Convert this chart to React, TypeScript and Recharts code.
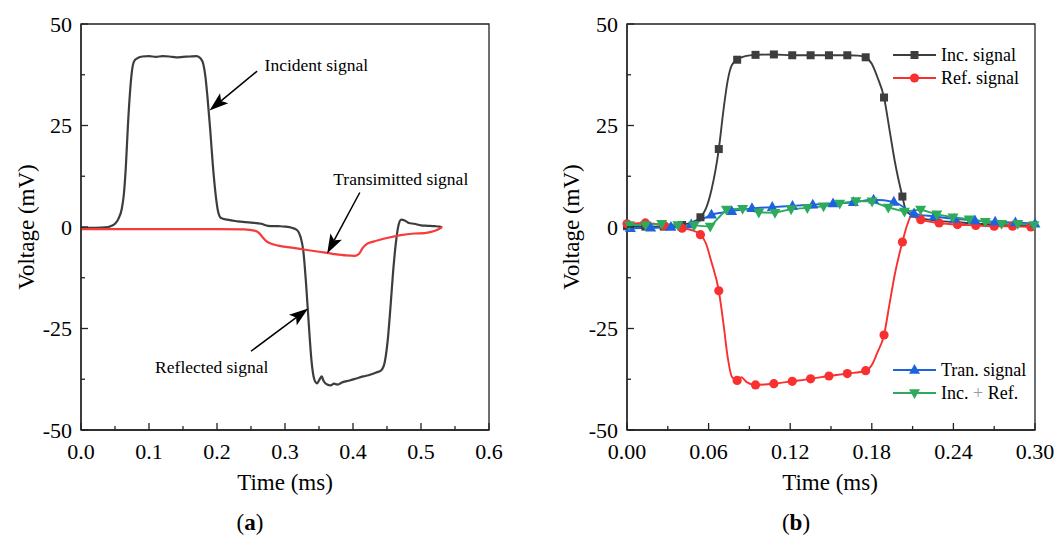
import React from 'react';
import {
  ComposedChart,
  Line,
  XAxis,
  YAxis,
  ReferenceArea,
  ReferenceLine,
  ReferenceDot,
} from 'recharts';

const FONT = "'Liberation Serif', 'Times New Roman', serif";
const AXIS = '#222';

// ---- panel (a): raw signals, [time ms, voltage mV]
const incidentA: [number, number][] = [
  [0, -0.2], [0.02, -0.2], [0.04, 0], [0.045, 0.3], [0.05, 0.8], [0.055, 2], [0.06, 4.5],
  [0.063, 8], [0.066, 15], [0.069, 25], [0.072, 33], [0.075, 38.5], [0.078, 40.8], [0.082, 41.5],
  [0.09, 42], [0.1, 42.1], [0.11, 41.9], [0.12, 42.1], [0.13, 42], [0.14, 41.8], [0.15, 41.9],
  [0.16, 42], [0.17, 42.1], [0.176, 41.5], [0.18, 40], [0.183, 37], [0.186, 32], [0.19, 24],
  [0.194, 15], [0.198, 8], [0.202, 3.5], [0.206, 2.2], [0.215, 1.8], [0.23, 1.4], [0.25, 1.1],
  [0.265, 0.8], [0.275, 0.3], [0.29, 0.2], [0.3, 0.1], [0.31, -0.2], [0.318, -0.8], [0.323, -2.5],
  [0.327, -6], [0.331, -14], [0.335, -24], [0.339, -33], [0.343, -37.5], [0.347, -38.5],
  [0.351, -37.5], [0.354, -36.8], [0.357, -38], [0.362, -38.8], [0.367, -39], [0.372, -38.6],
  [0.377, -38.8], [0.385, -38.2], [0.395, -37.8], [0.405, -37.3], [0.415, -36.8], [0.425, -36.4],
  [0.435, -35.8], [0.442, -35.2], [0.447, -33], [0.451, -28], [0.455, -20], [0.459, -11],
  [0.463, -4], [0.467, 0.5], [0.471, 1.8], [0.476, 1.6], [0.482, 1.0], [0.49, 0.8], [0.5, 0.4],
  [0.51, 0.3], [0.52, 0.2], [0.527, 0.1], [0.531, -0.1],
];
const transmittedA: [number, number][] = [
  [0, -0.5], [0.1, -0.5], [0.2, -0.5], [0.24, -0.6], [0.255, -0.9], [0.262, -1.5], [0.267, -2.5],
  [0.272, -3.4], [0.278, -4], [0.29, -4.6], [0.31, -5.1], [0.33, -5.6], [0.35, -6.1], [0.37, -6.6],
  [0.39, -7], [0.403, -7.1], [0.409, -6.6], [0.414, -5.2], [0.42, -4.2], [0.43, -3.6], [0.45, -2.7],
  [0.47, -2.0], [0.49, -1.6], [0.505, -1.5], [0.515, -1.2], [0.525, -0.6], [0.531, 0],
];

// ---- panel (b): dispersion-corrected signals, third value = marker drawn
const incB: [number, number, number][] = [
  [0, 0.2, 1], [0.0135, 0.1, 1], [0.027, 0.1, 1], [0.0405, 0.5, 1], [0.048, 1.2, 0], [0.054, 2.4, 1],
  [0.058, 4.5, 0], [0.062, 9, 0], [0.0675, 19.2, 1], [0.071, 29, 0], [0.074, 36, 0], [0.077, 39.8, 0],
  [0.081, 41.2, 1], [0.087, 42.1, 0], [0.0945, 42.4, 1], [0.108, 42.5, 1], [0.1215, 42.3, 1],
  [0.135, 42.3, 1], [0.1485, 42.3, 1], [0.162, 42.3, 1], [0.17, 42.2, 0], [0.1755, 41.8, 1],
  [0.18, 40.2, 0], [0.184, 37, 0], [0.189, 31.9, 1], [0.193, 24, 0], [0.197, 16, 0], [0.2025, 7.5, 1],
  [0.205, 4.2, 0], [0.209, 3, 0], [0.216, 2.2, 0], [0.23, 1.5, 0], [0.25, 1.0, 0], [0.27, 0.6, 0],
  [0.3, 0.3, 0],
];
const refB: [number, number, number][] = [
  [0, 0.8, 1], [0.0135, 1.0, 1], [0.027, 0.4, 1], [0.0405, -0.3, 1], [0.048, -0.8, 0], [0.054, -1.9, 1],
  [0.058, -4, 0], [0.062, -8.5, 0], [0.0675, -15.7, 1], [0.071, -24, 0], [0.074, -32, 0], [0.077, -36.8, 0],
  [0.081, -37.8, 1], [0.084, -37, 0], [0.088, -38.2, 0], [0.0945, -38.9, 1], [0.108, -38.6, 1],
  [0.1215, -38, 1], [0.135, -37.4, 1], [0.1485, -36.7, 1], [0.162, -36.1, 1], [0.1755, -35.4, 1],
  [0.18, -34, 0], [0.184, -31, 0], [0.189, -26.6, 1], [0.193, -19, 0], [0.197, -11.5, 0],
  [0.2025, -3.7, 1], [0.206, 0.5, 0], [0.209, 2.6, 0], [0.212, 2.4, 0], [0.216, 1.8, 1],
  [0.2295, 1.0, 1], [0.243, 0.6, 1], [0.2565, 0.4, 1], [0.27, 0.2, 1], [0.2835, 0.2, 1], [0.297, 0, 1],
  [0.3, 0, 0],
];
const tranB: [number, number][] = [
  [0.0025, -0.3], [0.0174, -0.2], [0.0323, 0.0], [0.0472, 0.6], [0.0621, 3.0], [0.077, 3.9],
  [0.0919, 4.6], [0.1068, 4.9], [0.1217, 5.2], [0.1366, 5.5], [0.1515, 5.8], [0.1664, 6.1],
  [0.1813, 6.7], [0.1962, 6.2], [0.2111, 3.3], [0.226, 2.6], [0.2409, 2.0], [0.2558, 1.6],
  [0.2707, 1.3], [0.2856, 1.1], [0.3, 0.8],
];
const sumB: [number, number][] = [
  [0.0017, 0.5], [0.0136, 0.5], [0.0255, 0.8], [0.0374, 0.5], [0.0493, 0.4], [0.0612, 0.1],
  [0.0731, 4.3], [0.085, 4.5], [0.0969, 3.6], [0.1088, 3.5], [0.1207, 4.4], [0.1326, 4.7],
  [0.1445, 5.1], [0.1564, 5.8], [0.1683, 6.4], [0.1802, 6.3], [0.1921, 4.8], [0.204, 3.8],
  [0.2159, 4.3], [0.2278, 3.1], [0.2397, 2.4], [0.2516, 1.9], [0.2635, 1.3], [0.2754, 0.8],
  [0.2873, 0.8], [0.2992, 0.5],
];

// ---- ticks
const xMajorA = [0, 0.1, 0.2, 0.3, 0.4, 0.5, 0.6];
const xMinorA = [0.05, 0.15, 0.25, 0.35, 0.45, 0.55];
const xMajorB = [0, 0.06, 0.12, 0.18, 0.24, 0.3];
const xMinorB = [0.03, 0.09, 0.15, 0.21, 0.27];
const yMajor = [-50, -25, 0, 25, 50];
const yMinor = [-37.5, -12.5, 12.5, 37.5];

const seriesNamesB = ['Inc. signal', 'Ref. signal', 'Tran. signal', 'Inc. + Ref.'];
const colorsB = ['#3d3d3d', '#f83030', '#1e62e0', '#2eaa5c'];

const toPts = (rows: number[][]) => rows.map((r) => ({ t: r[0], v: r[1], m: r[2] ?? 1 }));

const isMajor = (list: number[], v: number) => list.some((m) => Math.abs(m - v) < 1e-9);

function XTick(props: any) {
  const { x, y, payload, majors, digits } = props;
  const major = isMajor(majors, payload.value);
  return (
    <g>
      <line x1={x} y1={y} x2={x} y2={y - (major ? 7 : 4)} stroke={AXIS} strokeWidth={1.3} />
      {major && (
        <text x={x} y={y + 21} textAnchor="middle" dominantBaseline="central"
          fontFamily={FONT} fontSize={22} fill="#000">
          {payload.value.toFixed(digits)}
        </text>
      )}
    </g>
  );
}

function YTick(props: any) {
  const { x, y, payload } = props;
  const major = isMajor(yMajor, payload.value);
  return (
    <g>
      <line x1={x} y1={y} x2={x + (major ? 7 : 4)} y2={y} stroke={AXIS} strokeWidth={1.3} />
      {major && (
        <text x={x - 9} y={y} textAnchor="end" dominantBaseline="central"
          fontFamily={FONT} fontSize={22} fill="#000">
          {payload.value}
        </text>
      )}
    </g>
  );
}

function marker(kind: string, color: string) {
  return (p: any) => {
    const { cx, cy, payload, index } = p;
    if (!payload.m || cx == null) return <g key={`n${index}`} />;
    if (kind === 'square')
      return <rect key={`s${index}`} x={cx - 4} y={cy - 4} width={8} height={8} fill={color} />;
    if (kind === 'circle') return <circle key={`c${index}`} cx={cx} cy={cy} r={4.6} fill={color} />;
    const s = kind === 'up' ? 1 : -1;
    return (
      <polygon key={`t${index}`} fill={color}
        points={`${cx},${cy - 6 * s} ${cx - 5.5},${cy + 3.8 * s} ${cx + 5.5},${cy + 3.8 * s}`} />
    );
  };
}

function arrowShape(props: any) {
  const { x1, y1, x2, y2 } = props;
  const a = Math.atan2(y2 - y1, x2 - x1);
  const L = 19;
  const W = 6.5;
  const bx = x2 - L * Math.cos(a);
  const by = y2 - L * Math.sin(a);
  const px = -Math.sin(a) * W;
  const py = Math.cos(a) * W;
  const nx = bx + 4 * Math.cos(a);
  const ny = by + 4 * Math.sin(a);
  return (
    <g>
      <line x1={x1} y1={y1} x2={nx} y2={ny} stroke="#000" strokeWidth={1.5} />
      <polygon points={`${x2},${y2} ${bx + px},${by + py} ${nx},${ny} ${bx - px},${by - py}`} fill="#000" />
    </g>
  );
}

const notesA = [
  { text: 'Incident signal', at: [0.27, 39.9], from: [0.259, 38.4], to: [0.189, 28.7] },
  { text: 'Transimitted signal', at: [0.371, 11.7], from: [0.41, 8.5], to: [0.362, -6.5] },
  { text: 'Reflected signal', at: [0.109, -34.4], from: [0.25, -30.6], to: [0.334, -20.1] },
];

function Title({ x, y, text, rotate }: any) {
  return (
    <div
      style={{
        position: 'absolute', left: x, top: y, fontFamily: FONT, fontSize: 23, lineHeight: 1,
        whiteSpace: 'nowrap', transform: `translate(-50%, -50%)${rotate ? ' rotate(-90deg)' : ''}`,
      }}
    >
      {text}
    </div>
  );
}

function LegendRow({ x, y, color, kind, label }: any) {
  const m = marker(kind, color);
  return (
    <div style={{ position: 'absolute', left: x, top: y - 10, height: 20, display: 'flex', alignItems: 'center' }}>
      <svg width={44} height={20}>
        <line x1={0} y1={10} x2={43} y2={10} stroke={color} strokeWidth={1.8} />
        {m({ cx: 21.5, cy: 10, payload: { m: 1 }, index: 0 })}
      </svg>
      <span style={{ fontFamily: FONT, fontSize: 18, marginLeft: 4, color: '#000' }}>
        {label === 'Inc. + Ref.' ? (
          <>Inc. <span style={{ color: '#999' }}>+</span> Ref.</>
        ) : label}
      </span>
    </div>
  );
}

export default function App() {
  const W = 530;
  const H = 537;
  const commonY = (
    <YAxis
      type="number"
      domain={[-50, 50]}
      ticks={[...yMajor, ...yMinor].sort((a, b) => a - b)}
      interval={0}
      width={60}
      tickSize={0}
      tickMargin={0}
      tickLine={false}
      axisLine={{ stroke: AXIS, strokeWidth: 1.3 }}
      tick={(p: any) => <YTick {...p} />}
    />
  );
  return (
    <div style={{ position: 'absolute', left: 0, top: 0, width: 1060, height: 537, background: '#fff' }}>
      <div style={{ position: 'absolute', left: 0, top: 0 }}>
        <ComposedChart width={W} height={H} margin={{ top: 24, right: 41, bottom: 77, left: 21 }}>
          <XAxis
            dataKey="t"
            type="number"
            domain={[0, 0.6]}
            ticks={[...xMajorA, ...xMinorA].sort((a, b) => a - b)}
            interval={0}
            height={30}
            tickSize={0}
            tickMargin={0}
            tickLine={false}
            axisLine={{ stroke: AXIS, strokeWidth: 1.3 }}
            tick={(p: any) => <XTick {...p} majors={xMajorA} digits={1} />}
          />
          {commonY}
          <ReferenceArea x1={0} x2={0.6} y1={-50} y2={50} fill="none" fillOpacity={0}
            stroke={AXIS} strokeWidth={1.3} ifOverflow="visible" />
          <Line data={toPts(incidentA)} dataKey="v" type="monotone" stroke="#3d3d3d"
            strokeWidth={2.2} dot={false} isAnimationActive={false} />
          <Line data={toPts(transmittedA)} dataKey="v" type="monotone" stroke="#f53b3b"
            strokeWidth={2.2} dot={false} isAnimationActive={false} />
          {notesA.map((n) => (
            <ReferenceLine key={`a${n.text}`} ifOverflow="visible"
              segment={[{ x: n.from[0], y: n.from[1] }, { x: n.to[0], y: n.to[1] }]}
              shape={arrowShape} />
          ))}
          {notesA.map((n) => (
            <ReferenceDot key={`t${n.text}`} x={n.at[0]} y={n.at[1]} r={0} ifOverflow="visible"
              shape={(p: any) => (
                <text x={p.cx} y={p.cy} dominantBaseline="central" fontFamily={FONT} fontSize={17.5} fill="#000">
                  {n.text}
                </text>
              )} />
          ))}
        </ComposedChart>
      </div>
      <div style={{ position: 'absolute', left: 530, top: 0 }}>
        <ComposedChart width={W} height={H} margin={{ top: 24, right: 25, bottom: 77, left: 37 }}>
          <XAxis
            dataKey="t"
            type="number"
            domain={[0, 0.3]}
            ticks={[...xMajorB, ...xMinorB].sort((a, b) => a - b)}
            interval={0}
            height={30}
            tickSize={0}
            tickMargin={0}
            tickLine={false}
            axisLine={{ stroke: AXIS, strokeWidth: 1.3 }}
            tick={(p: any) => <XTick {...p} majors={xMajorB} digits={2} />}
          />
          {commonY}
          <ReferenceArea x1={0} x2={0.3} y1={-50} y2={50} fill="none" fillOpacity={0}
            stroke={AXIS} strokeWidth={1.3} ifOverflow="visible" />
          <Line data={toPts(incB)} dataKey="v" type="monotone" stroke={colorsB[0]} strokeWidth={1.9}
            dot={marker('square', colorsB[0])} isAnimationActive={false} />
          <Line data={toPts(refB)} dataKey="v" type="monotone" stroke={colorsB[1]} strokeWidth={1.9}
            dot={marker('circle', colorsB[1])} isAnimationActive={false} />
          <Line data={toPts(tranB)} dataKey="v" type="monotone" stroke={colorsB[2]} strokeWidth={1.9}
            dot={marker('up', colorsB[2])} isAnimationActive={false} />
          <Line data={toPts(sumB)} dataKey="v" type="linear" stroke={colorsB[3]} strokeWidth={1.9}
            dot={marker('down', colorsB[3])} isAnimationActive={false} />
        </ComposedChart>
      </div>
      <Title x={285} y={482} text="Time (ms)" />
      <Title x={26} y={227} text="Voltage (mV)" rotate />
      <Title x={250} y={522} text={<>(<b>a</b>)</>} />
      <Title x={830} y={482} text="Time (ms)" />
      <Title x={571} y={227} text="Voltage (mV)" rotate />
      <Title x={796} y={522} text={<>(<b>b</b>)</>} />
      <LegendRow x={893} y={55} color={colorsB[0]} kind="square" label={seriesNamesB[0]} />
      <LegendRow x={893} y={78} color={colorsB[1]} kind="circle" label={seriesNamesB[1]} />
      <LegendRow x={893} y={370} color={colorsB[2]} kind="up" label={seriesNamesB[2]} />
      <LegendRow x={893} y={393} color={colorsB[3]} kind="down" label={seriesNamesB[3]} />
    </div>
  );
}
